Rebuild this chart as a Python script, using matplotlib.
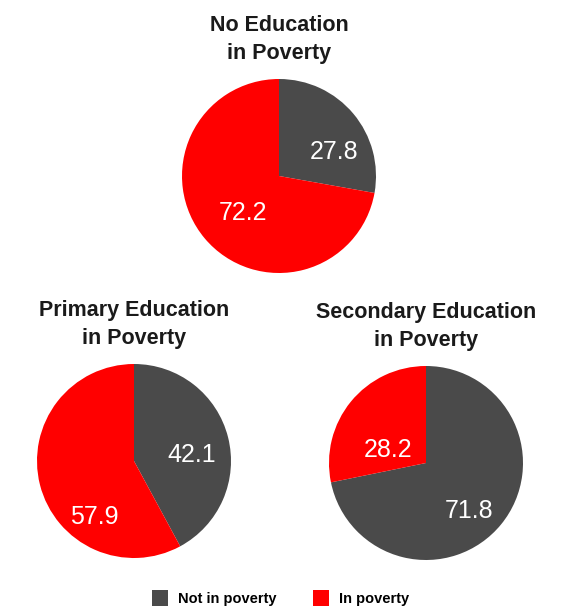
import matplotlib.pyplot as plt
from matplotlib.patches import Patch

plt.rcParams["font.family"] = ["Liberation Sans", "DejaVu Sans"]

# data
groups = ["No Education\nin Poverty", "Primary Education\nin Poverty", "Secondary Education\nin Poverty"]
not_in_poverty = [27.8, 42.1, 71.8]
in_poverty = [72.2, 57.9, 28.2]
series_names = ["Not in poverty", "In poverty"]

gray = "#4a4a4a"
red = "#ff0000"

fig = plt.figure(figsize=(5.65, 6.08), dpi=100)
W, H = 565, 608
R = 97
# pie centres in pixels (x, y from top)
centres = [(279, 176), (134, 461), (426, 463)]
# label positions in pie units (not in poverty, in poverty)
label_pos = [
    [(0.57, 0.25), (-0.37, -0.38)],
    [(0.59, 0.06), (-0.41, -0.58)],
    [(0.44, -0.49), (-0.39, 0.13)],
]

for i, name in enumerate(groups):
    cx, cy = centres[i]
    ax = fig.add_axes([(cx - R) / W, 1 - (cy + R) / H, 2 * R / W, 2 * R / H])
    wedges, _ = ax.pie(
        [not_in_poverty[i], in_poverty[i]],
        colors=[gray, red],
        startangle=90,
        counterclock=False,
        radius=1,
    )
    ax.set_xlim(-1, 1)
    ax.set_ylim(-1, 1)
    ax.set_aspect("equal")
    vals = [not_in_poverty[i], in_poverty[i]]
    for v, (lx, ly) in zip(vals, label_pos[i]):
        ax.text(lx, ly, f"{v:.1f}", color="white", fontsize=18,
                ha="center", va="center")
    ax.text(0, 1.15, name, ha="center", va="bottom", fontsize=15.5,
            fontweight="bold", color="#1a1a1a", linespacing=1.45,
            transform=ax.transData, clip_on=False)

handles = [Patch(facecolor=gray), Patch(facecolor=red)]
fig.legend(handles, series_names, loc="center", bbox_to_anchor=(0.497, 0.017),
           ncol=2, frameon=False, handlelength=1.1,
           handleheight=1.3, columnspacing=2.5, handletextpad=0.7,
           prop={"weight": "bold", "size": 10.5})

fig.savefig("out.png", dpi=100, facecolor="white")
